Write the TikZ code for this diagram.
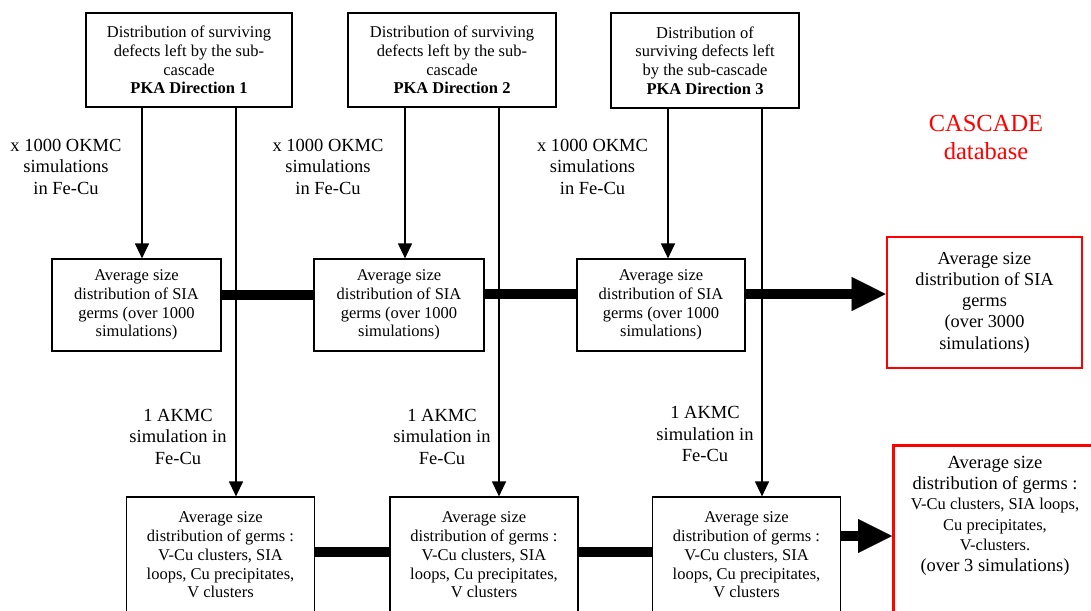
\documentclass[tikz,border=0pt]{standalone}
\usepackage{fontspec}
\setmainfont{LiberationSerif}[Extension=.ttf, UprightFont=*-Regular,
    BoldFont=*-Bold, ItalicFont=*-Italic, BoldItalicFont=*-BoldItalic]
\usetikzlibrary{arrows.meta}
\newcommand{\letragrande}{\fontsize{18.5}{20.5}\selectfont}
\newcommand{\letrachica}{\fontsize{16.5}{20}\selectfont}

\begin{document}
\begin{tikzpicture}[x=1pt, y=-1pt,
    caja/.style={draw, line width=1.2pt, align=center, inner sep=0pt,
                 font=\rmfamily\fontsize{16.5}{18.7}\selectfont},
    cajaroja/.style={draw=red, line width=2.8pt, align=center, inner sep=0pt},
    etiqueta/.style={align=center, inner sep=0pt,
                     font=\rmfamily\fontsize{18.5}{21.5}\selectfont},
    flecha/.style={line width=1.2pt, -{Triangle[length=15pt, width=14pt]}},
    barra/.style={line width=10pt},
    flechagorda/.style={line width=10pt,
                        -{Triangle[length=34pt, width=34pt, line width=0.1pt]}}]
            \useasboundingbox (0,0) rectangle (1091,610);
            \clip (0,0) rectangle (1091,610);
            % Cajas PKA
            \node[caja, minimum width=206pt, minimum height=94pt] (T1) at (189,60)
                {Distribution of surviving\\defects left by the sub-\\cascade\\\textbf{PKA Direction 1}};
            \node[caja, minimum width=208pt, minimum height=94pt] (T2) at (452,60)
                {Distribution of surviving\\defects left by the sub-\\cascade\\\textbf{PKA Direction 2}};
            \node[caja, minimum width=188pt, minimum height=95pt] (T3) at (705,60.5)
                {Distribution of\\surviving defects left\\by the sub-cascade\\\textbf{PKA Direction 3}};
            % Cajas SIA
            \foreach \i/\xc/\w in {1/136.5/169, 2/399/170, 3/661/168}{
                \node[caja, minimum width=\w pt, minimum height=92pt] (M\i) at (\xc,305)
                    {Average size\\distribution of SIA\\germs (over 1000\\simulations)};
            }
            % Cajas AKMC
            \foreach \i/\xc in {1/220.5, 2/484, 3/746.5}{
                \node[caja, minimum width=188pt, minimum height=116pt] (B\i) at (\xc,555)
                    {Average size\\distribution of germs :\\V-Cu clusters, SIA\\loops, Cu precipitates,\\V clusters};
            }
            % Base de datos
            \node[text=red, align=center, font=\rmfamily\fontsize{24.5}{28}\selectfont]
                (db) at (986,138) {CASCADE\\database};
            \node[cajaroja, minimum width=195pt, minimum height=131pt,
                  font=\rmfamily\fontsize{18.3}{21.3}\selectfont] (R1) at (984.5,302.5)
                {Average size\\distribution of SIA\\germs\\(over 3000\\simulations)};
            \node[cajaroja, minimum width=220pt, minimum height=200pt,
                  anchor=north west] (R2) at (892,444) {};
            \node[align=center, inner sep=0pt, font=\rmfamily\letragrande] (R2txt) at (995,516)
                {Average size\\distribution of germs :\\
                 {\letrachica V-Cu clusters, SIA loops,}\\{\letrachica Cu precipitates,}\\
                 {\letrachica V-clusters.}\\(over 3 simulations)};
            % Etiquetas
            \foreach \i/\xc in {1/66, 2/328, 3/592.5}{
                \node[etiqueta] (O\i) at (\xc,166.5) {x 1000 OKMC\\simulations\\in Fe-Cu};
            }
            \foreach \i/\xc/\yc in {1/178/436.5, 2/442/436.5, 3/705/434}{
                \node[etiqueta] (A\i) at (\xc,\yc) {1 AKMC\\simulation in\\Fe-Cu};
            }
            % Flechas verticales
            \foreach \i/\xa/\xb in {1/142/236, 2/405/499, 3/668/762}{
                \draw[flecha] (T\i.south -| \xa,0) -- (M\i.north -| \xa,0);
                \draw[flecha] (T\i.south -| \xb,0) -- (B\i.north -| \xb,0);
            }
            % Barras gruesas
            \draw[barra] (M1.east |- 0,295) -- (M2.west |- 0,295);
            \draw[barra] (M2.east |- 0,294) -- (M3.west |- 0,294);
            \draw[flechagorda] (M3.east |- 0,294) -- (R1.west |- 0,294);
            \draw[barra] (B1.east |- 0,552) -- (B2.west |- 0,552);
            \draw[barra] (B2.east |- 0,552) -- (B3.west |- 0,552);
            \draw[flechagorda] (B3.east |- 0,536) -- (R2.west |- 0,536);
        \end{tikzpicture}
\end{document}
